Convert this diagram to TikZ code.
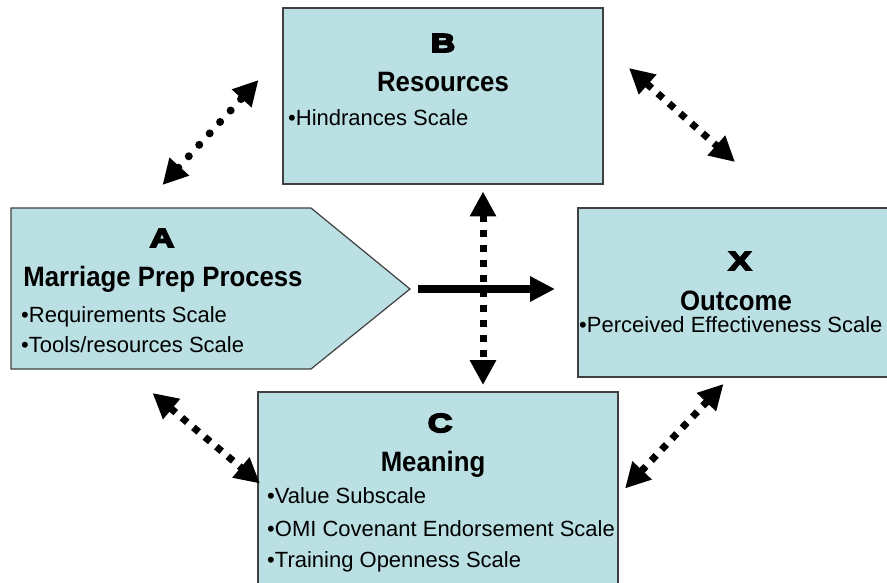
\documentclass[tikz,border=0pt]{standalone}
\usepackage{fontspec}
\setmainfont{Liberation Sans}
\newfontfamily\headfont{Liberation Sans}[FakeStretch=0.92]
\newfontfamily\letterfont{Liberation Sans Bold}[FakeStretch=1.3,FakeBold=7]
\usetikzlibrary{arrows.meta}
\definecolor{boxfill}{RGB}{186,224,228}
\definecolor{boxline}{RGB}{64,64,64}
\tikzset{
  panel/.style={draw=boxline, line width=1.2pt, fill=boxfill},
  boxnode/.style={panel, inner sep=0pt},
  letter/.style={anchor=base, inner sep=0pt, font=\letterfont\fontsize{26pt}{26pt}\selectfont},
  heading/.style={anchor=base, inner sep=0pt, font=\headfont\bfseries\fontsize{28pt}{30pt}\selectfont},
  item/.style={anchor=base west, inner sep=0pt, font=\fontsize{22pt}{26pt}\selectfont},
  bigtip/.tip={Triangle[length=25pt,width=25pt]},
  twoway/.style={bigtip-bigtip},
  dotlink/.style={twoway, line width=8pt, line cap=round, dash pattern=on 0pt off 15.5pt},
  squarelink/.style={twoway, line width=7pt, dash pattern=on 7pt off 8pt},
  mainlink/.style={-{Triangle[length=25pt,width=24pt]}, line width=8pt}
}
\begin{document}
\begin{tikzpicture}[x=1pt,y=-1pt]
\useasboundingbox (0,0) rectangle (887,583);
\clip (0,0) rectangle (887,583);

% boxes
\node[boxnode, minimum width=320pt, minimum height=176pt] (B) at (443,96) {};
\node[boxnode, minimum width=316pt, minimum height=169pt] (X) at (736,292.5) {};
\node[boxnode, minimum width=360pt, minimum height=208pt] (C) at (438,496) {};
\draw[panel] (11,208) coordinate (A) -- (311,208) -- (410,289) coordinate (Atip)
  -- (311,369) -- (11,369) -- cycle;

% box B text
\node[letter]  (Bl)  at (443,52)  {B};
\node[heading] (Bh)  at (443,92)  {Resources};
\node[item]    (Bi1) at (288,126) {•Hindrances Scale};

% box A text
\node[letter]  (Al)  at (162,247) {A};
\node[heading] (Ah)  at (163,287) {Marriage Prep Process};
\node[item]    (Ai1) at (21,322)  {•Requirements Scale};
\node[item]    (Ai2) at (21,352)  {•Tools/resources Scale};

% box X text
\node[letter]  (Xl)  at (740,270) {X};
\node[heading] (Xh)  at (736,310) {Outcome};
\node[item]    (Xi1) at (579,332) {•Perceived Effectiveness Scale};

% box C text
\node[letter]  (Cl)  at (440,432) {C};
\node[heading] (Ch)  at (433,471) {Meaning};
\node[item]    (Ci1) at (267,503) {•Value Subscale};
\node[item]    (Ci2) at (267,536) {•OMI Covenant Endorsement Scale};
\node[item]    (Ci3) at (267,567) {•Training Openness Scale};

% connector ends
\coordinate (ab1) at (162.5,185);
\coordinate (ab2) at (258.5,80);
\coordinate (bx1) at (629,68);
\coordinate (bx2) at (735,162);
\coordinate (ac1) at (152.5,393);
\coordinate (ac2) at (260,483.5);
\coordinate (cx1) at (625,488.5);
\coordinate (cx2) at (723.5,384);
\coordinate (bc1) at (483,191.5);
\coordinate (bc2) at (483,385);
\coordinate (ax1) at (418,289);
\coordinate (ax2) at (555,289);

% connectors
\draw[mainlink] (ax1) -- (ax2);
\draw[squarelink] (bc1) -- (bc2);
\draw[dotlink] (ab1) -- (ab2);
\draw[squarelink] (bx1) -- (bx2);
\draw[squarelink] (ac1) -- (ac2);
\draw[squarelink] (cx1) -- (cx2);
\end{tikzpicture}
\end{document}
